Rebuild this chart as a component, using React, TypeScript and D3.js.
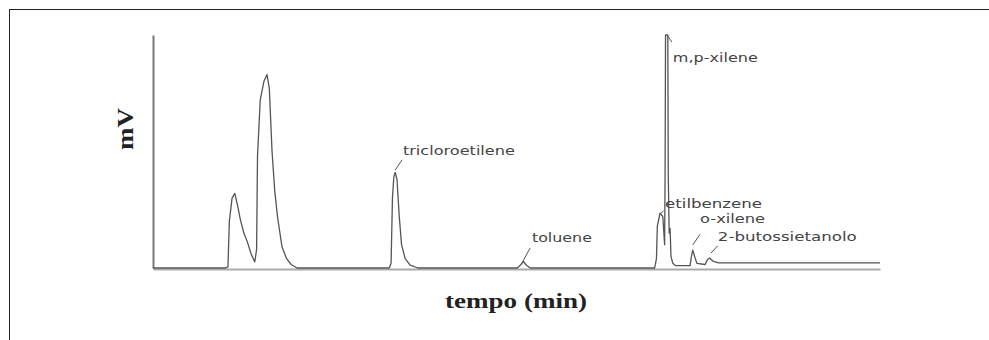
import React, { useEffect, useRef } from "react";
import * as d3 from "d3";

// retention time (min) and detector signal (mV)
const traceTime = [
  0, 1.6, 1.65, 1.68, 1.74, 1.8, 1.86, 1.92, 2.0, 2.08, 2.16, 2.24, 2.28, 2.3, 2.36, 2.44, 2.51,
  2.56, 2.62, 2.68, 2.74, 2.84, 2.94, 3.04, 3.17, 5.2, 5.24, 5.27, 5.3, 5.33, 5.37, 5.42, 5.47,
  5.55, 5.66, 5.83, 8.02, 8.1, 8.15, 8.22, 8.3, 11.04, 11.08, 11.1, 11.16, 11.22, 11.26, 11.27,
  11.28, 11.33, 11.34, 11.36, 11.38, 11.4, 11.44, 11.5, 11.82, 11.85, 11.88, 11.92, 11.97,
  12.15, 12.2, 12.25, 12.32, 12.45, 16,
];
const traceMv = [
  0, 0, 0.5, 20, 30, 32, 27, 21, 15, 11, 6, 2.6, 8, 48, 72, 80, 83,
  77, 50, 33, 22, 9, 4, 1.5, 0, 0, 2, 30, 39, 41, 38, 22, 10,
  4, 1.2, 0, 0, 1.5, 2.8, 1.2, 0, 0, 4, 18, 23.6, 22, 10, 40,
  100, 100, 40, 15, 17, 5, 2, 1, 1, 5, 7.7, 5, 2,
  1.5, 3.5, 4.3, 3, 2.2, 2.2,
];

// peak labels: text anchor and leader line, in (min, mV)
const peakNames = ["tricloroetilene", "toluene", "m,p-xilene", "etilbenzene", "o-xilene", "2-butossietanolo"];
const labelTime = [5.5, 8.34, 11.44, 11.27, 12.04, 12.43];
const labelMv = [48.5, 11.2, 88.4, 25.8, 19.2, 11.6];
const leaderFrom = [[5.48, 46.4], [8.3, 8.6], [11.31, 100], [11.24, 24.5], [12.04, 14.5], [12.43, 9.6]];
const leaderTo = [[5.33, 42], [8.12, 2.1], [11.42, 97], [11.18, 23.6], [11.88, 9.9], [12.28, 6.4]];
const labelWidth = [112, 60, 85, 97, 65, 139];

const App: React.FC = () => {
  const svgRef = useRef<SVGSVGElement | null>(null);

  useEffect(() => {
    const svg = d3.select(svgRef.current);
    svg.selectAll("*").remove();

    const w = 989;
    const h = 340;

    const x = d3.scaleLinear().domain([0, 16]).range([153, 880]);
    const y = d3.scaleLinear().domain([0, 100]).range([268, 35]);

    // outer frame (runs off the right and bottom edges)
    svg.append("rect")
      .attr("x", 9.5)
      .attr("y", 9.5)
      .attr("width", w + 20)
      .attr("height", h + 20)
      .attr("fill", "none")
      .attr("stroke", "#222")
      .attr("stroke-width", 1);

    // axes: plain lines, no ticks
    svg.append("g")
      .attr("transform", `translate(0, ${y(0) + 1})`)
      .call(d3.axisBottom(x).ticks(0).tickSizeOuter(0))
      .select(".domain")
      .attr("stroke", "#aaa")
      .attr("stroke-width", 2);

    svg.append("g")
      .attr("transform", `translate(${x(0)}, 0)`)
      .call(d3.axisLeft(y).ticks(0).tickSizeOuter(0))
      .select(".domain")
      .attr("stroke", "#777")
      .attr("stroke-width", 2);

    const points: [number, number][] = traceTime.map((t, i) => [t, traceMv[i]]);
    const line = d3.line<[number, number]>()
      .x(d => x(d[0]))
      .y(d => y(d[1]));

    svg.append("path")
      .datum(points)
      .attr("fill", "none")
      .attr("stroke", "#555")
      .attr("stroke-width", 1.3)
      .attr("stroke-linejoin", "round")
      .attr("d", line);

    // leader lines
    peakNames.forEach((name, i) => {
      svg.append("line")
        .attr("x1", x(leaderFrom[i][0]))
        .attr("y1", y(leaderFrom[i][1]))
        .attr("x2", x(leaderTo[i][0]))
        .attr("y2", y(leaderTo[i][1]))
        .attr("stroke", "#555")
        .attr("stroke-width", 1);
    });

    // peak labels
    svg.selectAll(".peak-label")
      .data(peakNames)
      .enter()
      .append("text")
      .attr("class", "peak-label")
      .attr("x", (d, i) => x(labelTime[i]))
      .attr("y", (d, i) => y(labelMv[i]))
      .attr("textLength", (d, i) => labelWidth[i])
      .attr("lengthAdjust", "spacingAndGlyphs")
      .style("font-family", "'DejaVu Sans', sans-serif")
      .style("font-size", "13px")
      .style("fill", "#444")
      .text(d => d);

    // axis titles
    svg.append("text")
      .attr("transform", `translate(133, 129) rotate(-90)`)
      .attr("text-anchor", "middle")
      .attr("textLength", 42)
      .attr("lengthAdjust", "spacingAndGlyphs")
      .style("font-family", "'Liberation Serif', serif")
      .style("font-weight", "bold")
      .style("font-size", "24px")
      .style("fill", "#222")
      .text("mV");

    svg.append("text")
      .attr("x", 516)
      .attr("y", 308)
      .attr("text-anchor", "middle")
      .attr("textLength", 142)
      .attr("lengthAdjust", "spacingAndGlyphs")
      .style("font-family", "'Liberation Serif', serif")
      .style("font-weight", "bold")
      .style("font-size", "21px")
      .style("fill", "#222")
      .text("tempo (min)");
  }, []);

  return (
    <svg
      ref={svgRef}
      width={989}
      height={340}
      style={{ position: "absolute", left: 0, top: 0, background: "#fff" }}
    />
  );
};

export default App;
